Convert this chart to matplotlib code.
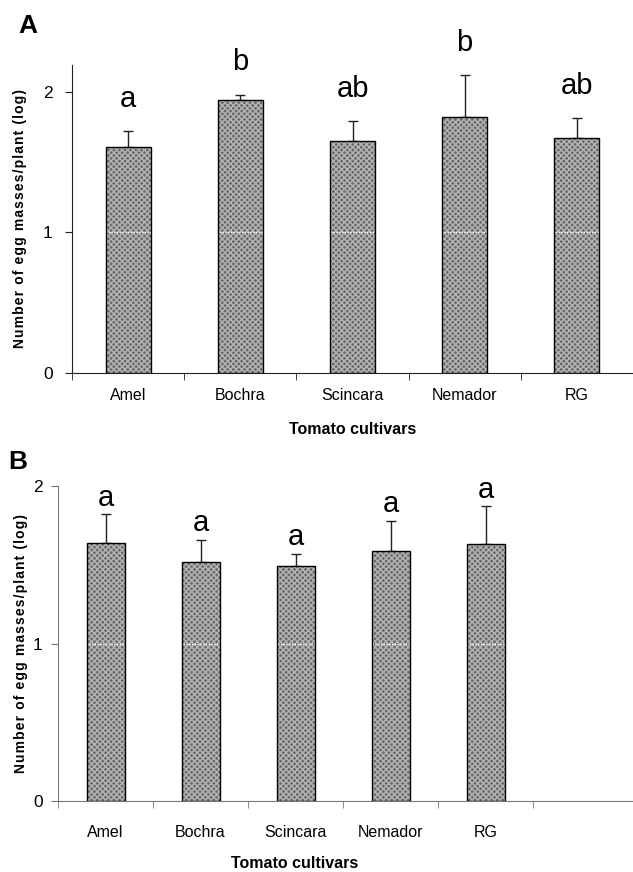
import matplotlib
matplotlib.use("Agg")
import matplotlib.pyplot as plt
import numpy as np

cultivars = ['Amel', 'Bochra', 'Scincara', 'Nemador', 'RG']

# panel A
mean_a = [1.61, 1.94, 1.65, 1.82, 1.67]
se_a = [0.11, 0.04, 0.14, 0.30, 0.14]
letters_a = ['a', 'b', 'ab', 'b', 'ab']

# panel B
mean_b = [1.64, 1.52, 1.49, 1.59, 1.63]
se_b = [0.18, 0.14, 0.08, 0.19, 0.24]
letters_b = ['a', 'a', 'a', 'a', 'a']

ylab = 'Number of egg masses/plant (log)'
xlab = 'Tomato cultivars'

plt.rcParams['font.family'] = ['Liberation Sans', 'DejaVu Sans']

fig = plt.figure(figsize=(6.33, 8.72), dpi=100)
ax_a = fig.add_axes([72/633, 1-373/872, 561/633, 308/872])
ax_b = fig.add_axes([58/633, 1-801/872, 575/633, 315/872])


def draw_panel(ax, means, errs, letters, xmax, ymax, spine_col, gap,
               ypad, xpad, ylab_x, xlab_x, xlab_y):
    x = np.arange(len(cultivars))
    ax.bar(x, means, width=0.4, color='#6a6a6a', edgecolor='#b4b4b4',
           hatch='xxxxxx', linewidth=0, zorder=2)
    ax.axhline(1, color='white', ls=(0, (1, 1)), lw=1, zorder=2.5)
    ax.bar(x, means, width=0.4, color='none', edgecolor='black',
           linewidth=1, zorder=3)
    ax.errorbar(x, means, yerr=[np.zeros(len(errs)), errs], fmt='none',
                ecolor='#222222', elinewidth=1, capsize=3.5, capthick=1,
                zorder=1.5)
    for xi, m, e, lab in zip(x, means, errs, letters):
        ax.annotate(lab, (xi, m + e), xytext=(0, gap), textcoords='offset points',
                    ha='center', va='bottom', fontsize=21)

    ax.set_xlim(-0.5, xmax)
    ax.set_ylim(0, ymax)
    ax.set_xticks(x, cultivars, fontsize=11.5)
    ax.set_xticks(np.arange(len(cultivars) + 1) - 0.5, minor=True)
    ax.tick_params(axis='x', which='major', length=0, pad=xpad)
    ax.tick_params(axis='x', which='minor', length=5, color=spine_col)
    ax.set_yticks([0, 1, 2])
    ax.set_yticklabels(['0', '1', '2'], fontsize=12.5)
    ax.tick_params(axis='y', length=5, color=spine_col, pad=ypad)
    for s in ['top', 'right']:
        ax.spines[s].set_visible(False)
    for s in ['left', 'bottom']:
        ax.spines[s].set_color(spine_col)
    ax.set_xlabel(xlab, fontweight='bold', fontsize=11.5, va='center')
    ax.xaxis.set_label_coords(xlab_x, xlab_y)
    ax.set_ylabel('\u200a'.join(ylab), fontweight='bold', fontsize=10,
                  va='center')
    ax.yaxis.set_label_coords(ylab_x, 0.5)


draw_panel(ax_a, mean_a, se_a, letters_a, 4.49, 2.19, '#222222', 13, 9, 11,
           (20 - 72) / 561, 0.5, -(430 - 373) / 308)
draw_panel(ax_b, mean_b, se_b, letters_b, 5.55, 2.0, '#777777', 2, 6, 17,
           (21 - 58) / 575, (295 - 58) / 575, -(863 - 801) / 315)

fig.text(18/633, 1-26/872, 'A', fontsize=19, fontweight='bold', va='center')
fig.text(8/633, 1-462/872, 'B', fontsize=19, fontweight='bold', va='center')

fig.savefig('out.png', dpi=100)
